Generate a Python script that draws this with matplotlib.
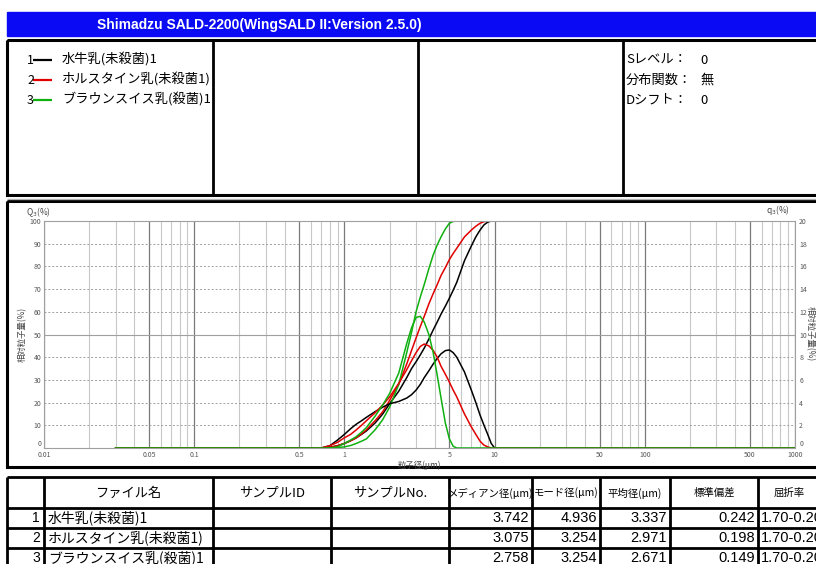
import numpy as np
import matplotlib
matplotlib.use("Agg")
import matplotlib.pyplot as plt
from matplotlib.patches import Rectangle

plt.rcParams["font.family"] = ["Noto Sans CJK JP", "DejaVu Sans"]

# particle diameter (um) at which the curves were sampled
diameter = [0.03, 0.7, 0.8, 0.9, 1.0, 1.1, 1.2, 1.3, 1.4, 1.6, 1.8, 2.0,
            2.3, 2.6, 2.8, 3.0, 3.2, 3.4, 3.65, 3.9, 4.15, 4.4, 4.7, 5.0,
            5.3, 5.6, 6.3, 7.0, 7.5, 8.0, 8.5, 9.0, 9.5, 10.0, 1000.0]

sample_names = ["水牛乳(未殺菌)1", "ホルスタイン乳(未殺菌1)", "ブラウンスイス乳(殺菌)1"]
sample_colors = ["#000000", "#e00000", "#10b010"]

# cumulative distribution Q3 (%), up to 10 um
cum_1 = [0, 0, 0.3, 1, 2, 3.2, 4.5, 6, 7.5, 11, 15, 19.5,
         25, 31, 35, 38, 41, 44, 48, 52, 55.5, 59, 62.5, 66,
         69.5, 73, 82.5, 89, 93, 96, 98.3, 99.5, 100, 100]
cum_2 = [0, 0, 0.3, 1, 2, 3.2, 4.5, 6.2, 8, 12, 16, 21,
         28, 37, 43, 48.5, 53.5, 58, 63.5, 68, 72, 76, 79.5, 83,
         85.7, 88, 93, 96, 97.7, 99, 99.7, 100, 100, 100]
cum_3 = [0, 0, 0, 0.2, 0.5, 1.1, 2, 3, 4, 8, 12.5, 18,
         28, 42, 51, 60, 66.5, 72, 79, 85, 89.5, 93, 96.5, 99,
         99.8, 100, 100, 100, 100, 100, 100, 100, 100, 100]

# frequency distribution q3 (%)
freq_1 = [0, 0, 0.2, 0.7, 1.2, 1.7, 2.1, 2.4, 2.7, 3.2, 3.6, 3.9,
          4.1, 4.4, 4.7, 5.1, 5.6, 6.2, 6.8, 7.4, 7.9, 8.3, 8.58, 8.64,
          8.4, 8.0, 6.7, 5.1, 4.0, 2.9, 2.0, 1.2, 0.4, 0, 0]
freq_2 = [0, 0, 0.2, 0.5, 0.9, 1.2, 1.6, 2.0, 2.4, 3.1, 3.8, 4.5,
          5.7, 6.9, 7.7, 8.4, 8.95, 9.16, 9.0, 8.6, 8.0, 7.2, 6.5, 5.8,
          5.1, 4.5, 3.0, 1.86, 1.2, 0.6, 0.25, 0.1, 0, 0, 0]
freq_3 = [0, 0, 0, 0.1, 0.4, 0.7, 1.0, 1.4, 1.8, 2.8, 3.8, 4.8,
          6.6, 9.2, 10.6, 11.5, 11.6, 11.1, 10.0, 8.4, 6.4, 4.4, 2.2, 0.8,
          0.15, 0, 0, 0, 0, 0, 0, 0, 0, 0, 0]

x_ticks = [0.01, 0.05, 0.1, 0.5, 1, 5, 10, 50, 100, 500, 1000]
x_tick_labels = ["0.01", "0.05", "0.1", "0.5", "1", "5", "10", "50", "100", "500", "1000"]

# summary table
table_header = ["ファイル名", "サンプルID", "サンプルNo.", "メディアン径(μm)",
                "モード径(μm)", "平均径(μm)", "標準偏差", "屈折率"]
median_um = [3.742, 3.075, 2.758]
mode_um = [4.936, 3.254, 3.254]
mean_um = [3.337, 2.971, 2.671]
std_dev = [0.242, 0.198, 0.149]
refr_index = ["1.70-0.20i", "1.70-0.20i", "1.70-0.20i"]

info_labels = ["Sレベル：", "分布関数：", "Dシフト："]
info_values = ["0", "無", "0"]

W, H = 816, 564
fig = plt.figure(figsize=(W / 100, H / 100), dpi=100)

# pixel-coordinate layer for frames, title bar and table
bg = fig.add_axes([0, 0, 1, 1], zorder=0)
bg.set_xlim(0, W)
bg.set_ylim(H, 0)
bg.axis("off")


def frame(x0, y0, x1, y1, lw=2.2):
    bg.add_patch(Rectangle((x0, y0), x1 - x0, y1 - y0, fill=False,
                           edgecolor="black", lw=lw))


def vline(x, y0, y1, lw=2.0, color="black"):
    bg.plot([x, x], [y0, y1], color=color, lw=lw, solid_capstyle="butt")


def hline(y, x0, x1, lw=2.0, color="black"):
    bg.plot([x0, x1], [y, y], color=color, lw=lw, solid_capstyle="butt")


# title bar
bg.add_patch(Rectangle((7, 12), W, 24, color="#0a0af5"))
bg.text(97, 24.5, "Shimadzu SALD-2200(WingSALD II:Version 2.5.0)", color="white",
        fontsize=10, fontweight="bold", va="center", ha="left",
        family=["Liberation Sans", "Noto Sans CJK JP"])

# header box with legend and settings
frame(7, 40, W + 5, 195)
for x in [213, 418, 623]:
    vline(x, 40, 195)
hline(198.5, 7, W, lw=1, color="#b0b0b0")

for i, (name, color) in enumerate(zip(sample_names, sample_colors)):
    y = 60 + i * 20
    bg.text(27, y, str(i + 1), fontsize=9, va="center", ha="left")
    hline(y, 33, 52, lw=1.6, color=color)
    bg.text(62, y, name, fontsize=9.5, va="center", ha="left")

for i, (lab, val) in enumerate(zip(info_labels, info_values)):
    y = 60 + i * 20
    bg.text(626, y, lab, fontsize=9.5, va="center", ha="left")
    bg.text(700, y, val, fontsize=9.5, va="center", ha="left")

# chart frame
frame(7, 201, W + 5, 467)

# plot axes
left, right, top, bottom = 44, 795, 221, 448
ax = fig.add_axes([left / W, 1 - bottom / H, (right - left) / W, (bottom - top) / H], zorder=1)
ax.set_xscale("log")
ax.set_xlim(0.01, 1000)
ax.set_ylim(0, 100)
ax.set_xticks(x_ticks)
ax.set_xticklabels(x_tick_labels)
ax.set_yticks(range(0, 101, 10))
ax.tick_params(axis="both", which="both", length=0, labelsize=5, labelcolor="#555555", pad=2)

ax.grid(which="minor", axis="x", color="#c8c8c8", lw=0.8)
ax.grid(which="major", axis="x", color="#7a7a7a", lw=0.9)
ax.grid(which="major", axis="y", color="#a0a0a0", lw=0.7, ls=(0, (2, 2)))
ax.axhline(50, color="#a0a0a0", lw=0.8)
for sp in ax.spines.values():
    sp.set_color("#a0a0a0")
    sp.set_linewidth(0.8)

ax2 = ax.twinx()
ax2.set_ylim(0, 20)
ax2.set_yticks(range(0, 21, 2))
ax2.tick_params(axis="y", length=0, labelsize=5, labelcolor="#555555", pad=3)
for sp in ax2.spines.values():
    sp.set_visible(False)

# the "0" labels sit just above the corner so they clear the x labels
ax.get_yticklabels()[0].set_va("bottom")
ax2.get_yticklabels()[0].set_va("bottom")

cums = [cum_1, cum_2, cum_3]
freqs = [freq_1, freq_2, freq_3]
for cum, freq, color in zip(cums, freqs, sample_colors):
    ax.plot(diameter[:-1], cum, color=color, lw=1.1)
    ax2.plot(diameter, freq, color=color, lw=1.1)

ax.set_xlabel("粒子径(μm)", fontsize=6, color="#444444", labelpad=1)
bg.text(22, 334, "相対粒子量(%)", fontsize=6, rotation=90, va="center", ha="center", color="#444444")
bg.text(810, 334, "相対粒子量(%)", fontsize=6, rotation=-90, va="center", ha="center", color="#444444")
bg.text(26, 212, "Q$_3$(%)", fontsize=6, va="center", ha="left", color="#444444")
bg.text(766, 210, "q$_3$(%)", fontsize=6, va="center", ha="left", color="#444444")

# results table
col_x = [7, 44, 213, 331, 449, 532, 600, 670, 758, W + 5]
row_y = [477, 508, 528, 548, 568]
for x in col_x:
    vline(x, row_y[0], H + 5)
for y in row_y:
    hline(y, col_x[0], W)

for j, head in enumerate(table_header):
    xc = (col_x[j + 1] + col_x[j + 2]) / 2
    fs = 9.5 if j < 3 else 7.5
    bg.text(xc, 493, head, fontsize=fs, va="center", ha="center")

for i in range(3):
    y = (row_y[i + 1] + row_y[i + 2]) / 2
    bg.text(col_x[1] - 4, y, str(i + 1), fontsize=10, va="center", ha="right",
            family=["Liberation Sans"])
    bg.text(col_x[1] + 4, y, sample_names[i], fontsize=10, va="center", ha="left")
    cells = ["%.3f" % median_um[i], "%.3f" % mode_um[i], "%.3f" % mean_um[i], "%.3f" % std_dev[i]]
    for k, txt in enumerate(cells):
        bg.text(col_x[k + 5] - 3, y, txt, fontsize=10.5, va="center", ha="right",
                family=["Liberation Sans"])
    bg.text(col_x[8] + 3, y, refr_index[i], fontsize=10.5, va="center", ha="left",
            family=["Liberation Sans"])

fig.savefig("out.png", dpi=100)
